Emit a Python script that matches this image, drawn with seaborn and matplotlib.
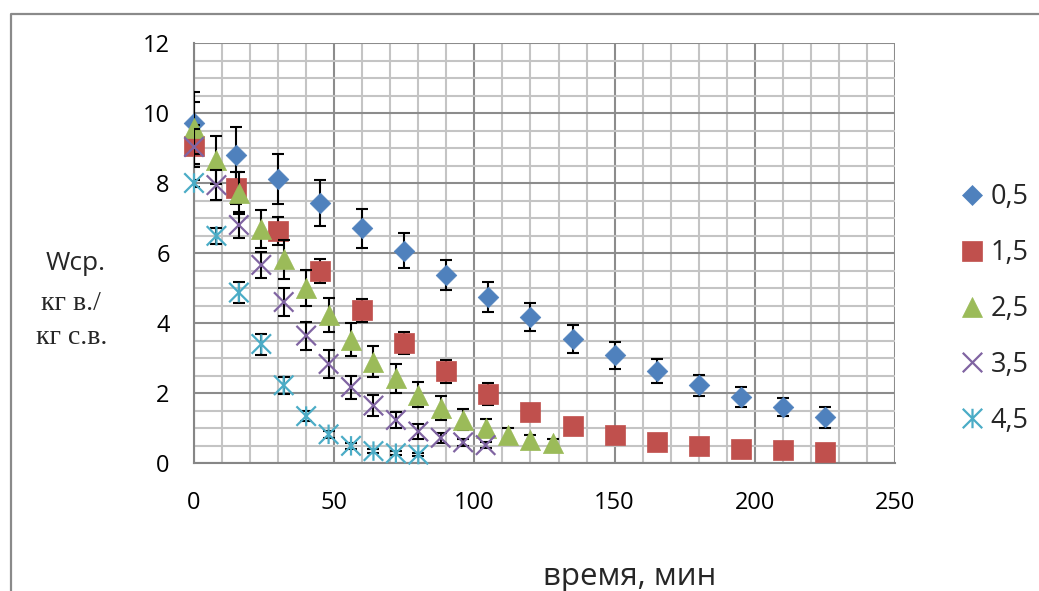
import matplotlib
matplotlib.use("Agg")
import matplotlib.pyplot as plt
import seaborn as sns
import pandas as pd
from matplotlib.path import Path
from matplotlib.lines import Line2D
from matplotlib.ticker import MultipleLocator

# ---------------- data ----------------
series_labels = ["0,5", "1,5", "2,5", "3,5", "4,5"]

x_05 = [0, 15, 30, 45, 60, 75, 90, 105, 120, 135, 150, 165, 180, 195, 210, 225]
y_05 = [9.71, 8.80, 8.12, 7.42, 6.71, 6.06, 5.38, 4.74, 4.17, 3.54, 3.08, 2.63, 2.22, 1.88, 1.60, 1.31]
e_05 = [0.90, 0.80, 0.72, 0.66, 0.56, 0.50, 0.43, 0.43, 0.41, 0.40, 0.39, 0.34, 0.30, 0.28, 0.26, 0.30]

x_15 = [0, 15, 30, 45, 60, 75, 90, 105, 120, 135, 150, 165, 180, 195, 210, 225]
y_15 = [9.05, 7.86, 6.63, 5.49, 4.37, 3.42, 2.62, 1.97, 1.46, 1.06, 0.81, 0.60, 0.49, 0.41, 0.37, 0.32]
e_15 = [0.60, 0.45, 0.40, 0.35, 0.33, 0.31, 0.33, 0.31, 0.20, 0.15, 0.12, 0.10, 0.08, 0.07, 0.06, 0.05]

x_25 = [0, 8, 16, 24, 32, 40, 48, 56, 64, 72, 80, 88, 96, 104, 112, 120, 128]
y_25 = [9.57, 8.65, 7.72, 6.69, 5.82, 5.00, 4.23, 3.52, 2.89, 2.42, 1.95, 1.57, 1.23, 1.00, 0.80, 0.66, 0.57]
e_25 = [0.75, 0.68, 0.60, 0.55, 0.55, 0.52, 0.49, 0.47, 0.44, 0.41, 0.36, 0.34, 0.30, 0.26, 0.20, 0.15, 0.12]

x_35 = [0, 8, 16, 24, 32, 40, 48, 56, 64, 72, 80, 88, 96, 104]
y_35 = [9.03, 7.94, 6.80, 5.66, 4.60, 3.64, 2.83, 2.17, 1.64, 1.23, 0.90, 0.72, 0.59, 0.51]
e_35 = [0.50, 0.43, 0.36, 0.36, 0.40, 0.40, 0.41, 0.33, 0.30, 0.22, 0.22, 0.14, 0.10, 0.08]

x_45 = [0, 8, 16, 24, 32, 40, 48, 56, 64, 72, 80]
y_45 = [8.00, 6.49, 4.87, 3.40, 2.22, 1.34, 0.82, 0.49, 0.34, 0.28, 0.24]
e_45 = [0.10, 0.23, 0.31, 0.30, 0.24, 0.15, 0.10, 0.08, 0.06, 0.05, 0.05]

xticks = [0, 50, 100, 150, 200, 250]
yticks = [0, 2, 4, 6, 8, 10, 12]

# ---------------- style ----------------
sns.set_theme(style="white")
plt.rcParams["font.family"] = ["Open Sans", "DejaVu Sans"]

colors = ["#4F81BD", "#C0504D", "#9BBB59", "#8064A2", "#4BACC6"]

cross = Path(
    [(-0.5, -0.5), (0.5, 0.5), (-0.5, 0.5), (0.5, -0.5)],
    [Path.MOVETO, Path.LINETO, Path.MOVETO, Path.LINETO],
)
asterisk = Path(
    [(-0.5, -0.5), (0.5, 0.5), (-0.5, 0.5), (0.5, -0.5), (0.0, -0.5), (0.0, 0.5)],
    [Path.MOVETO, Path.LINETO, Path.MOVETO, Path.LINETO, Path.MOVETO, Path.LINETO],
)
markers = ["D", "s", "^", cross, asterisk]
msizes = [10.5, 14.0, 14.5, 14.0, 14.0]
filled = [True, True, True, False, False]

W, H = 1039, 591
fig = plt.figure(figsize=(W / 100, H / 100), dpi=100)
ax = fig.add_axes([194 / W, 1 - 463 / H, (895 - 194) / W, (463 - 43) / H])

data = [(x_05, y_05, e_05), (x_15, y_15, e_15), (x_25, y_25, e_25),
        (x_35, y_35, e_35), (x_45, y_45, e_45)]

for i, (xs, ys, es) in enumerate(data):
    df = pd.DataFrame({"x": xs, "y": ys})
    ax.errorbar(xs, ys, yerr=es, fmt="none", ecolor="black", elinewidth=1.5,
                capsize=4.5, capthick=1.5, zorder=3 + 2 * i)
    if filled[i]:
        sns.scatterplot(data=df, x="x", y="y", ax=ax, marker=markers[i],
                        s=msizes[i] ** 2, color=colors[i], edgecolor=colors[i],
                        linewidth=0.5, zorder=4 + 2 * i, legend=False, clip_on=False)
    else:
        sns.scatterplot(data=df, x="x", y="y", ax=ax, marker=markers[i],
                        s=msizes[i] ** 2, facecolor="none", edgecolor=colors[i],
                        color=colors[i], linewidth=1.6,
                        zorder=4 + 2 * i, legend=False, clip_on=False)

ax.set_xlim(0, 250)
ax.set_ylim(0, 12)
ax.xaxis.set_major_locator(MultipleLocator(50))
ax.xaxis.set_minor_locator(MultipleLocator(10))
ax.yaxis.set_major_locator(MultipleLocator(2))
ax.yaxis.set_minor_locator(MultipleLocator(0.5))
ax.set_xticks(xticks)
ax.set_yticks(yticks)
ax.set_xticklabels([str(v) for v in xticks])
ax.set_yticklabels([str(v) for v in yticks])

ax.grid(which="major", color="#8C8C8C", linewidth=1.5, zorder=0)
ax.grid(which="minor", color="#C4C4C4", linewidth=1.5, zorder=0)
ax.set_axisbelow(True)

for side in ["top", "right"]:
    ax.spines[side].set_visible(False)
for side in ["left", "bottom"]:
    ax.spines[side].set_color("#868686")
    ax.spines[side].set_linewidth(1.5)

ax.tick_params(axis="both", which="major", direction="out", length=5.5, width=1.3,
               color="#868686", labelsize=17, labelcolor="black")
ax.tick_params(axis="both", which="minor", length=0)
ax.tick_params(axis="x", pad=15)
ax.tick_params(axis="y", pad=12)
ax.set_xlabel("")
ax.set_ylabel("")

# legend
handles = []
for i in range(5):
    if filled[i]:
        h = Line2D([], [], linestyle="none", marker=markers[i], markersize=msizes[i],
                   markerfacecolor=colors[i], markeredgecolor=colors[i], markeredgewidth=0.5)
    else:
        h = Line2D([], [], linestyle="none", marker=markers[i], markersize=msizes[i],
                   markerfacecolor="none", markeredgecolor=colors[i], markeredgewidth=1.6)
    handles.append(h)
fig.legend(handles, series_labels, loc="center left",
           bbox_to_anchor=(946 / W, 1 - 309 / H), frameon=False, fontsize=19.5,
           labelspacing=1.03, handlelength=0.9, handletextpad=0.25, borderpad=0)

# axis titles
fig.text(630 / W, 1 - 585 / H, "время, мин", ha="center", va="baseline", fontsize=22.5)
fig.text(76 / W, 1 - 264 / H, "Wcp.", ha="center", va="center", fontsize=19)
fig.text(71 / W, 1 - 303 / H, "кг в./", ha="center", va="center", fontsize=20,
         family="Liberation Serif")
fig.text(72 / W, 1 - 338 / H, "кг с.в.", ha="center", va="center", fontsize=20,
         family="Liberation Serif")

# outer chart border
fig.add_artist(Line2D([11 / W, 11 / W, 1.0], [0.0, 1 - 14 / H, 1 - 14 / H],
                      transform=fig.transFigure, color="#8A8A8A", linewidth=1.6))

fig.savefig("out.png", dpi=100)
